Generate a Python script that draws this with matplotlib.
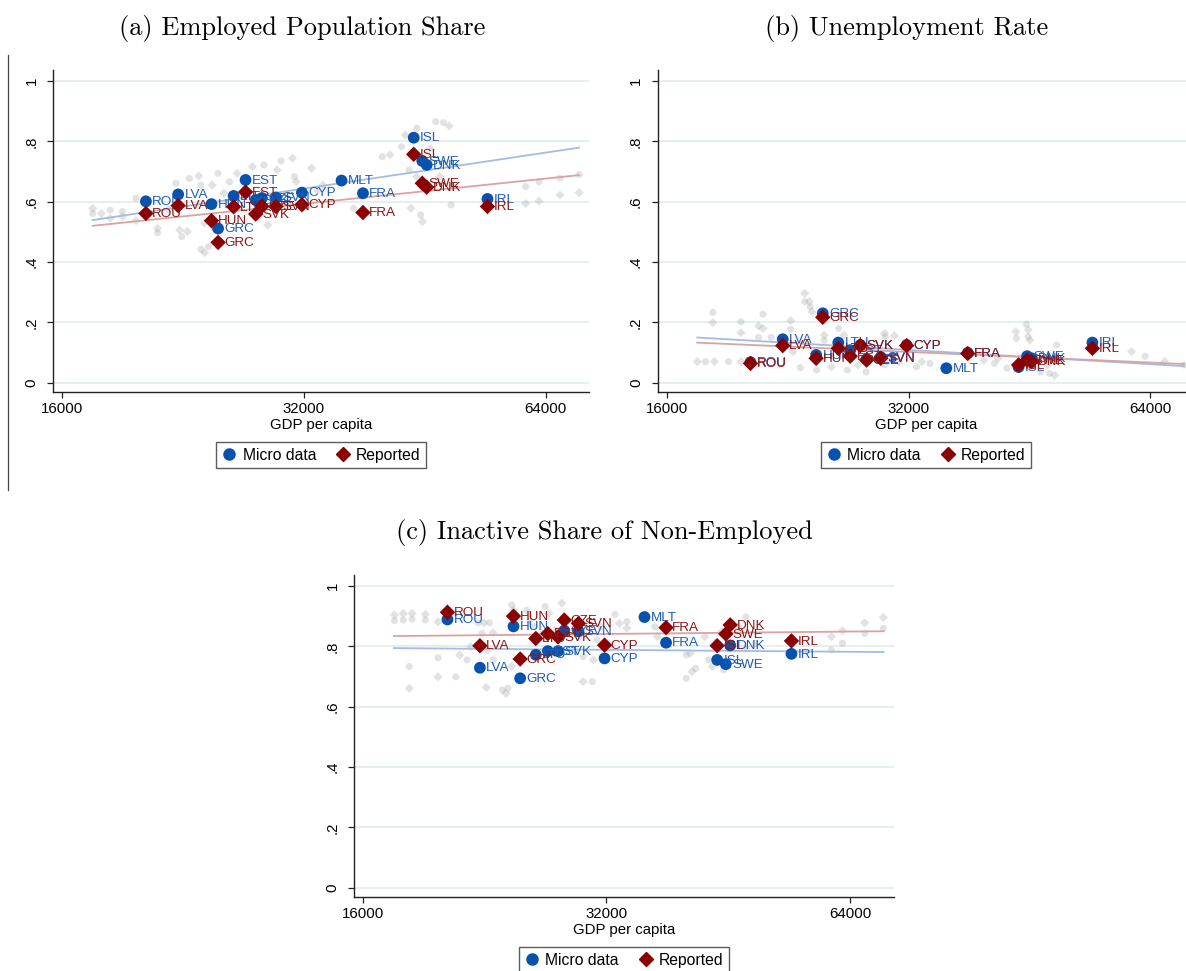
import numpy as np
import matplotlib
matplotlib.use("Agg")
import matplotlib.pyplot as plt
from matplotlib.lines import Line2D

# ---------------- data ----------------
countries = ["ROU", "LVA", "HUN", "GRC", "LTU", "EST", "SVK", "CZE", "SVN",
             "CYP", "MLT", "FRA", "ISL", "SWE", "DNK", "IRL"]
gdp = [20350, 22320, 24560, 25030, 26170, 27080, 27880, 28380, 29550,
       31830, 35660, 37920, 43860, 44950, 45520, 54190]

# (a) Employed population share
emp_micro = [0.601, 0.624, 0.592, 0.511, 0.619, 0.672, 0.605, 0.612, 0.614,
             0.630, 0.670, 0.628, 0.812, 0.735, 0.722, 0.609]
emp_rep = [0.561, 0.587, 0.537, 0.465, 0.583, 0.632, 0.559, 0.585, 0.584,
           0.590, np.nan, 0.564, 0.757, 0.661, 0.648, 0.584]

# (b) Unemployment rate
unemp_micro = [0.068, 0.144, 0.092, 0.230, 0.133, 0.108, 0.125, 0.078, 0.085,
               0.125, 0.048, 0.099, 0.052, 0.088, 0.081, 0.133]
unemp_rep = [0.064, 0.123, 0.081, 0.217, 0.114, 0.088, 0.123, 0.075, 0.081,
             0.123, np.nan, 0.097, 0.059, 0.075, 0.070, 0.114]

# (c) Inactive share of non-employed
inact_micro = [0.889, 0.729, 0.866, 0.694, 0.772, 0.784, 0.784, 0.852, 0.850,
               0.760, 0.897, 0.812, 0.755, 0.741, 0.803, 0.775]
inact_rep = [0.913, 0.802, 0.900, 0.758, 0.826, 0.842, 0.831, 0.887, 0.876,
             0.804, np.nan, 0.862, 0.802, 0.841, 0.871, 0.818]

# fitted lines (end points)
fit_x = [17470, 70450]
emp_fit_micro = [0.539, 0.779]
emp_fit_rep = [0.520, 0.688]
unemp_fit_micro = [0.150, 0.055]
unemp_fit_rep = [0.133, 0.062]
inact_fit_micro = [0.794, 0.781]
inact_fit_rep = [0.834, 0.850]

# background observations (other years)
gray_a_x = [17470, 17470, 17910, 18370, 18370, 19030, 19030, 19780, 19780, 20320,
            21040, 21040, 21700, 22180, 22420, 22550, 22920, 23050, 23680, 23820,
            24080, 23820, 24080, 24350, 24610, 25020, 25440, 25860, 26430, 27020,
            27620, 28540, 28860, 29170, 29650, 29980, 30980, 31150, 31320, 31840,
            32720, 33270, 33820, 36920, 37740, 40080, 40970, 42340, 42800, 43280,
            43520, 44240, 44240, 44730, 44970, 45220, 45970, 46720, 47240, 47760,
            48550, 48820, 49090, 60450, 60450, 62820, 62820, 66720, 66720, 70480, 70480]
gray_a_y = [0.578, 0.561, 0.561, 0.572, 0.545, 0.567, 0.550, 0.611, 0.537, 0.611,
            0.512, 0.497, 0.572, 0.661, 0.506, 0.484, 0.501, 0.677, 0.685, 0.655,
            0.528, 0.442, 0.431, 0.451, 0.655, 0.694, 0.628, 0.666, 0.694, 0.639,
            0.716, 0.722, 0.523, 0.617, 0.705, 0.735, 0.744, 0.683, 0.666, 0.583,
            0.711, 0.639, 0.655, 0.578, 0.617, 0.749, 0.755, 0.782, 0.821, 0.705,
            0.578, 0.843, 0.683, 0.556, 0.534, 0.661, 0.776, 0.865, 0.683, 0.862,
            0.851, 0.589, 0.650, 0.650, 0.594, 0.666, 0.602, 0.678, 0.622, 0.690, 0.630]

gray_b_x = [17480, 17890, 18350, 19110, 19800, 18270, 18270, 19800, 19800, 20830,
            20830, 21090, 21090, 21590, 22830, 22830, 22990, 23480, 23770, 23770,
            24090, 24140, 24260, 24590, 25140, 25140, 25660, 26190, 26590, 26860,
            27690, 28340, 29880, 29940, 30740, 29880, 31120, 32740, 33240, 34030,
            39700, 40930, 41360, 42430, 43510, 43600, 44400, 44850, 45090, 45090,
            45320, 46710, 47670, 47910, 48640, 48900, 60640, 63040, 66660, 70480]
gray_b_y = [0.070, 0.070, 0.070, 0.070, 0.070, 0.233, 0.199, 0.202, 0.166, 0.150,
            0.188, 0.227, 0.180, 0.150, 0.206, 0.177, 0.103, 0.050, 0.296, 0.269,
            0.269, 0.252, 0.235, 0.042, 0.158, 0.141, 0.053, 0.180, 0.158, 0.042,
            0.059, 0.036, 0.164, 0.152, 0.156, 0.059, 0.070, 0.053, 0.070, 0.064,
            0.075, 0.064, 0.081, 0.048, 0.169, 0.147, 0.086, 0.194, 0.175, 0.152,
            0.141, 0.036, 0.059, 0.031, 0.025, 0.125, 0.103, 0.088, 0.070, 0.059]

gray_c_x = [17500, 17500, 17940, 17940, 18400, 18400, 19110, 19110, 19810, 19810,
            19810, 18250, 18250, 20840, 21070, 21520, 21750, 22210, 22570, 22930,
            23170, 22450, 22800, 23170, 22730, 23790, 24040, 24170, 24430, 24430,
            24560, 25490, 25760, 26030, 26590, 26870, 27150, 27740, 28180, 28330,
            29560, 29940, 29940, 30740, 30840, 31160, 31490, 32790, 33200, 33920,
            33920, 36720, 36990, 40170, 40610, 40170, 40820, 41250, 42350, 42810,
            43260, 43720, 44420, 44660, 46590, 47590, 47590, 48860, 60710, 60710,
            62660, 62660, 66750, 66750, 70390, 70390]
gray_c_y = [0.904, 0.885, 0.909, 0.887, 0.909, 0.890, 0.906, 0.887, 0.881, 0.762,
            0.699, 0.733, 0.661, 0.699, 0.771, 0.755, 0.799, 0.878, 0.878, 0.878,
            0.845, 0.843, 0.788, 0.755, 0.664, 0.655, 0.644, 0.661, 0.733, 0.937,
            0.920, 0.920, 0.887, 0.865, 0.843, 0.932, 0.909, 0.854, 0.943, 0.898,
            0.832, 0.766, 0.683, 0.683, 0.755, 0.822, 0.865, 0.906, 0.876, 0.882,
            0.860, 0.865, 0.832, 0.771, 0.777, 0.694, 0.716, 0.727, 0.832, 0.755,
            0.733, 0.815, 0.849, 0.722, 0.865, 0.898, 0.793, 0.810, 0.832, 0.788,
            0.852, 0.810, 0.878, 0.843, 0.896, 0.860]

yticks = [0, 0.2, 0.4, 0.6, 0.8, 1.0]
ytick_labels = ["0", ".2", ".4", ".6", ".8", "1"]
xticks = [16000, 32000, 64000]
xtick_labels = ["16000", "32000", "64000"]
titles = ["(a) Employed Population Share", "(b) Unemployment Rate",
          "(c) Inactive Share of Non-Employed"]
legend_labels = ["Micro data", "Reported"]

# ---------------- style ----------------
BLUE = "#0652ad"
BLUE_TXT = "#1f5cb8"
RED = "#8b0000"
RED_TXT = "#8e1515"
GRAY = "#9a9a9a"
GRID = "#e3ebee"
FIT_BLUE = "#a3bde0"
FIT_RED = "#d9a3a3"
SANS = "Liberation Sans"

W, H = 1186, 971
fig = plt.figure(figsize=(W / 100, H / 100), dpi=100)
fig.patch.set_facecolor("white")


def px_axes(left, right, top, bottom):
    return fig.add_axes([left / W, 1 - bottom / H, (right - left) / W, (bottom - top) / H])


def draw_panel(ax, micro, rep, gx, gy, fit_m, fit_r):
    ax.set_xscale("log", base=2)
    ax.set_xlim(15600, 72500)
    ax.set_ylim(-0.03, 1.035)
    for yv in yticks:
        ax.axhline(yv, color=GRID, lw=1.2, zorder=0)
    gx = np.asarray(gx)
    gy = np.asarray(gy)
    ax.scatter(gx[0::2], gy[0::2], marker="D", s=22, color=GRAY, alpha=0.28,
               edgecolors="none", zorder=1)
    ax.scatter(gx[1::2], gy[1::2], marker="o", s=26, color=GRAY, alpha=0.28,
               edgecolors="none", zorder=1)
    ax.plot(fit_x, fit_m, color=FIT_BLUE, lw=1.3, zorder=2)
    ax.plot(fit_x, fit_r, color=FIT_RED, lw=1.3, zorder=2)
    ax.scatter(gdp, micro, marker="o", s=72, color=BLUE, edgecolors="none", zorder=3)
    for c, x, y in zip(countries, gdp, micro):
        if np.isfinite(y):
            ax.annotate(c, (x, y), xytext=(4.5, -0.5), textcoords="offset points",
                        va="center", ha="left", fontsize=9.7, color=BLUE_TXT,
                        family=SANS, zorder=4)
    ax.scatter(gdp, rep, marker="D", s=62, color=RED, edgecolors="none", zorder=5)
    for c, x, y in zip(countries, gdp, rep):
        if np.isfinite(y):
            ax.annotate(c, (x, y), xytext=(4.5, -0.5), textcoords="offset points",
                        va="center", ha="left", fontsize=9.7, color=RED_TXT,
                        family=SANS, zorder=6)
    ax.set_xticks(xticks)
    ax.set_xticklabels(xtick_labels, family=SANS, fontsize=10.8)
    ax.minorticks_off()
    ax.set_yticks(yticks)
    ax.set_yticklabels(ytick_labels, family=SANS, fontsize=10.8, rotation=90,
                       va="center")
    ax.tick_params(axis="both", length=4.5, width=0.9, color="#222222")
    ax.tick_params(axis="x", pad=3)
    ax.tick_params(axis="y", pad=6)
    for s in ("top", "right"):
        ax.spines[s].set_visible(False)
    for s in ("left", "bottom"):
        ax.spines[s].set_linewidth(1.0)
        ax.spines[s].set_color("#222222")
    ax.set_xlabel("GDP per capita", family=SANS, fontsize=10.8, labelpad=1)
    handles = [Line2D([], [], marker="o", ls="none", color=BLUE, ms=8),
               Line2D([], [], marker="D", ls="none", color=RED, ms=7)]
    leg = ax.legend(handles, legend_labels, loc="center", bbox_to_anchor=(0.5, -0.197),
                    ncol=2, frameon=True, fancybox=False, edgecolor="#333333",
                    prop={"family": SANS, "size": 11.3}, handletextpad=0.35,
                    columnspacing=1.2, borderpad=0.35, handlelength=1.0)
    leg.get_frame().set_linewidth(1.0)


ax_a = px_axes(53.2, 589, 70.4, 391.8)
draw_panel(ax_a, emp_micro, emp_rep, gray_a_x, gray_a_y, emp_fit_micro, emp_fit_rep)

ax_b = px_axes(657.7, 1194, 70.4, 391.8)
draw_panel(ax_b, unemp_micro, unemp_rep, gray_b_x, gray_b_y, unemp_fit_micro, unemp_fit_rep)

ax_c = px_axes(354.1, 893.7, 575.4, 896.8)
draw_panel(ax_c, inact_micro, inact_rep, gray_c_x, gray_c_y, inact_fit_micro, inact_fit_rep)

title_pos = [(302, 28), (907, 28), (604, 533)]
for t, (tx, ty) in zip(titles, title_pos):
    fig.text(tx / W, 1 - ty / H, t, ha="center", va="center", fontsize=19,
             family="cmr10")

# thin frame line at the left of panel (a)
fig.add_artist(Line2D([8 / W, 8 / W], [1 - 55 / H, 1 - 490 / H], color="#444444", lw=0.9))

fig.savefig("out.png", dpi=100, facecolor="white")
